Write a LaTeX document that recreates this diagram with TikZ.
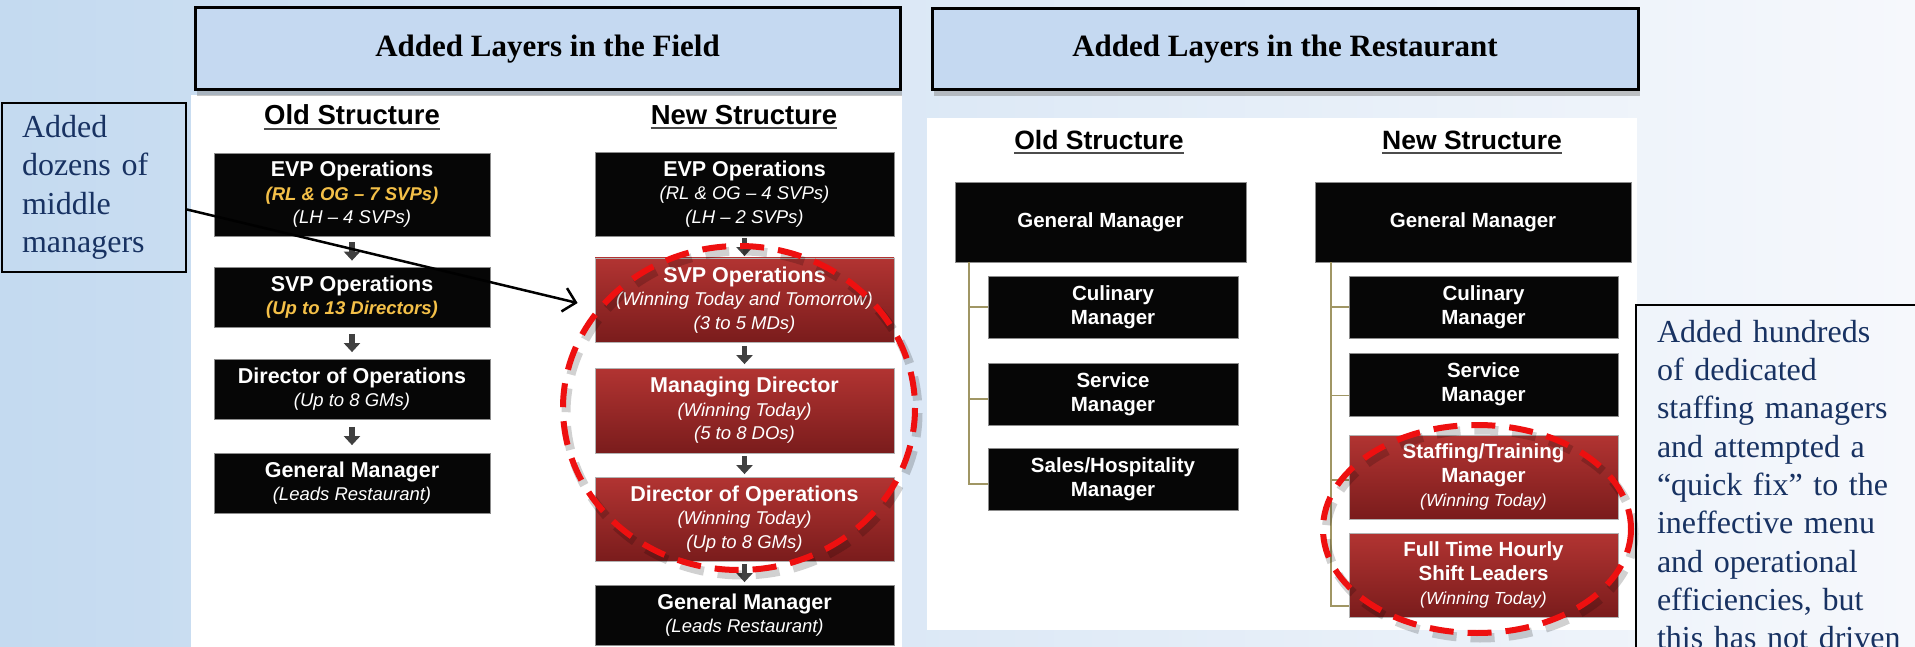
\documentclass[tikz,border=0pt]{standalone}
\usepackage{fontspec}
\setmainfont{Liberation Serif}
\setsansfont{Liberation Sans}
\usetikzlibrary{arrows.meta,shadows}
\definecolor{bgl}{RGB}{196,218,240}
\definecolor{bgr}{RGB}{246,248,252}
\definecolor{hdrfill}{RGB}{197,217,241}
\definecolor{navy}{RGB}{24,50,98}
\definecolor{gold}{RGB}{244,192,72}
\definecolor{redtop}{RGB}{178,52,50}
\definecolor{redbot}{RGB}{122,28,28}
\definecolor{ringred}{RGB}{238,16,16}
\definecolor{olive}{RGB}{160,150,100}
\definecolor{arrgray}{RGB}{64,64,64}
\newcommand{\bxtitle}{\bfseries\fontsize{21.5}{23.5}\selectfont}
\newcommand{\bxsub}{\itshape\fontsize{18.5}{23.5}\selectfont}
\newcommand{\bxgold}{\bfseries\itshape\fontsize{18.5}{23.5}\selectfont\color{gold}}
\newcommand{\rstitle}{\bfseries\fontsize{20.5}{24}\selectfont}
\newcommand{\rssub}{\itshape\fontsize{17.5}{24}\selectfont}
\tikzset{
  hdr/.style={draw=black, line width=3pt, fill=hdrfill, inner sep=0pt,
    font=\bfseries\fontsize{31}{34}\selectfont,
    drop shadow={shadow xshift=2pt, shadow yshift=-6pt, fill=black!50, opacity=0.45}},
  shead/.style={inner sep=0pt, font=\sffamily\bfseries\fontsize{27.5}{30}\selectfont},
  rhead/.style={inner sep=0pt, font=\sffamily\bfseries\fontsize{26.5}{30}\selectfont},
  ul/.style={draw=black!70, line width=2pt},
  blackbox/.style={draw=black!45, line width=0.8pt, fill={rgb,255:red,6;green,6;blue,6},
    text=white, align=center, inner sep=0pt,
    font=\sffamily\fontsize{20}{23.5}\selectfont},
  redbox/.style={draw=black!30, line width=0.8pt, top color=redtop, bottom color=redbot,
    text=white, align=center, inner sep=0pt,
    font=\sffamily\fontsize{20}{23.5}\selectfont},
  rsbox/.style={font=\sffamily\fontsize{20}{24}\selectfont},
  darr/.style={draw=arrgray, line width=5.5pt, -{Triangle[width=16pt,length=9pt]}},
  tree/.style={draw=olive, line width=1.8pt},
  callbox/.style={draw=black, line width=2pt, text=navy, align=left,
    font=\fontsize{32}{38.3}\selectfont},
  callarr/.style={draw=black, line width=2.5pt, -{Straight Barb[length=12pt,width=24pt]}},
  ring/.style={draw=ringred, line width=6pt, dash pattern=on 24pt off 14pt},
  ringshadow/.style={draw=black, opacity=0.18, line width=9pt, dash pattern=on 24pt off 14pt}
}
\begin{document}
\begin{tikzpicture}[x=1pt,y=-1pt]
\useasboundingbox (0,0) rectangle (1915,647);
\clip (0,0) rectangle (1915,647);
% background
\shade[left color=bgl, right color=bgr] (0,0) rectangle (1915,647);
% white panels
\fill[white] (191,95) rectangle (902,647);
\fill[white] (927,118) rectangle (1637,630);
% headers
\node[hdr, minimum width=705pt, minimum height=82pt] (hf) at (547.5,49) {Added Layers in the Field};
\node[hdr, minimum width=706pt, minimum height=81pt] (hr) at (1285,49.5) {Added Layers in the Restaurant};
% structure headings
\node[shead] (fold) at (352,115) {Old Structure};
\node[shead] (fnew) at (744,115) {New Structure};
\node[rhead] (rold) at (1099,140) {Old Structure};
\node[rhead] (rnew) at (1472,140) {New Structure};
\foreach \h in {fold,fnew,rold,rnew}
  \draw[ul] ([yshift=-4pt]\h.base west) -- ([yshift=-4pt]\h.base east);
% field: old structure
\node[blackbox, minimum width=276pt, minimum height=83pt] (oevp) at (352,194.5)
  {{\bxtitle EVP Operations}\\{\bxgold (RL \& OG – 7 SVPs)}\\{\bxsub (LH – 4 SVPs)}};
\node[blackbox, minimum width=276pt, minimum height=60pt] (osvp) at (352,297)
  {{\bxtitle SVP Operations}\\{\bxgold (Up to 13 Directors)}};
\node[blackbox, minimum width=276pt, minimum height=60pt] (odo) at (352,389)
  {{\bxtitle Director of Operations}\\{\bxsub (Up to 8 GMs)}};
\node[blackbox, minimum width=276pt, minimum height=60pt] (ogm) at (352,483)
  {{\bxtitle General Manager}\\{\bxsub (Leads Restaurant)}};
\draw[darr, shorten <=6pt, shorten >=6pt] (oevp.south) -- (osvp.north);
\draw[darr, shorten <=6.5pt, shorten >=6.5pt] (osvp.south) -- (odo.north);
\draw[darr, shorten <=7.5pt, shorten >=7.5pt] (odo.south) -- (ogm.north);
% field: new structure
\node[blackbox, minimum width=299pt, minimum height=84pt] (nevp) at (744.5,194)
  {{\bxtitle EVP Operations}\\{\bxsub (RL \& OG – 4 SVPs)}\\{\bxsub (LH – 2 SVPs)}};
\node[redbox, minimum width=299pt, minimum height=84pt] (nsvp) at (744.5,300)
  {{\bxtitle SVP Operations}\\{\bxsub (Winning Today and Tomorrow)}\\{\bxsub (3 to 5 MDs)}};
\node[redbox, minimum width=299pt, minimum height=85pt] (nmd) at (744.5,410.5)
  {{\bxtitle Managing Director}\\{\bxsub (Winning Today)}\\{\bxsub (5 to 8 DOs)}};
\node[redbox, minimum width=299pt, minimum height=84pt] (ndo) at (744.5,519)
  {{\bxtitle Director of Operations}\\{\bxsub (Winning Today)}\\{\bxsub (Up to 8 GMs)}};
\node[blackbox, minimum width=299pt, minimum height=60pt] (ngm) at (744.5,615)
  {{\bxtitle General Manager}\\{\bxsub (Leads Restaurant)}};
\draw[darr, shorten <=1.5pt, shorten >=1.5pt] (nevp.south) -- (nsvp.north);
\draw[darr, shorten <=3.5pt, shorten >=3.5pt] (nsvp.south) -- (nmd.north);
\draw[darr, shorten <=2.5pt, shorten >=2.5pt] (nmd.south) -- (ndo.north);
\draw[darr, shorten <=2.5pt, shorten >=2.5pt] (ndo.south) -- (ngm.north);
% restaurant: old structure
\node[blackbox, rsbox, minimum width=291pt, minimum height=80pt] (rogm) at (1100.5,222)
  {{\rstitle General Manager}};
\node[blackbox, rsbox, minimum width=250pt, minimum height=62pt] (rocul) at (1113,307)
  {{\rstitle Culinary}\\{\rstitle Manager}};
\node[blackbox, rsbox, minimum width=250pt, minimum height=62pt] (roser) at (1113,394)
  {{\rstitle Service}\\{\rstitle Manager}};
\node[blackbox, rsbox, minimum width=250pt, minimum height=62pt] (rosal) at (1113,479)
  {{\rstitle Sales/Hospitality}\\{\rstitle Manager}};
\draw[tree] ([xshift=14pt]rogm.south west) |- (rocul.west);
\draw[tree] ([xshift=14pt]rogm.south west) |- ([yshift=-5pt]roser.west);
\draw[tree] ([xshift=14pt]rogm.south west) |- ([yshift=-5pt]rosal.west);
% restaurant: new structure
\node[blackbox, rsbox, minimum width=316pt, minimum height=80pt] (rngm) at (1473,222)
  {{\rstitle General Manager}};
\node[blackbox, rsbox, minimum width=269pt, minimum height=62pt] (rncul) at (1483.5,307)
  {{\rstitle Culinary}\\{\rstitle Manager}};
\node[blackbox, rsbox, minimum width=269pt, minimum height=63pt] (rnser) at (1483.5,384.5)
  {{\rstitle Service}\\{\rstitle Manager}};
\node[redbox, rsbox, minimum width=269pt, minimum height=84pt] (rnsta) at (1483.5,477)
  {{\rstitle Staffing/Training}\\{\rstitle Manager}\\{\rssub (Winning Today)}};
\node[redbox, rsbox, minimum width=269pt, minimum height=84pt] (rnsft) at (1483.5,575)
  {{\rstitle Full Time Hourly}\\{\rstitle Shift Leaders}\\{\rssub (Winning Today)}};
\draw[tree] ([xshift=16pt]rngm.south west) |- (rncul.west);
\draw[tree] ([xshift=16pt]rngm.south west) |- ([yshift=-11pt]rnser.west);
\draw[tree] ([xshift=16pt]rngm.south west) |- ([yshift=-3pt]rnsta.west);
\draw[tree] ([xshift=16pt]rngm.south west) |- ([yshift=-31pt]rnsft.west);
% callouts
\node[callbox, anchor=north west, minimum width=184pt, minimum height=169pt,
  text width=144pt, inner xsep=20pt, inner ysep=0pt] (lcall) at (1,102)
  {Added\\dozens of\\middle\\managers};
\node[callbox, anchor=north west, text width=262pt, inner xsep=21pt, inner ysep=15pt] (rcall) at (1635,304)
  {Added hundreds\\of dedicated\\staffing managers\\and attempted a\\“quick fix” to the\\ineffective menu\\and operational\\efficiencies, but\\this has not driven};
\draw[callarr] ([yshift=-22pt]lcall.east) -- ([xshift=-17pt,yshift=-3pt]nsvp.west);
% dashed rings
\draw[ringshadow] (742,413) ellipse [x radius=176, y radius=162];
\draw[ring] (739,408) ellipse [x radius=176, y radius=162];
\draw[ringshadow] (1480,534) ellipse [x radius=154, y radius=104];
\draw[ring] (1477,529) ellipse [x radius=154, y radius=104];
\end{tikzpicture}
\end{document}
